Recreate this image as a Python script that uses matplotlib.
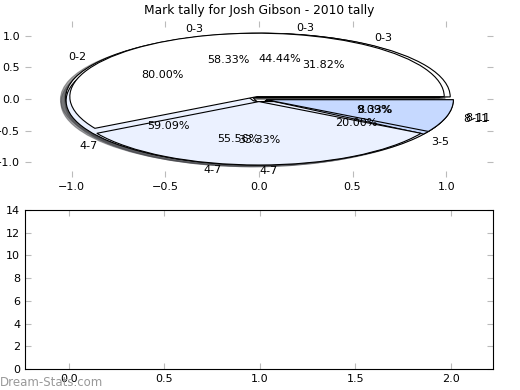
import matplotlib
matplotlib.use("Agg")
import matplotlib.pyplot as plt

# tallies (each pair is one pie, drawn in this order)
labels_a = ["0-2", "3-5"]
values_a = [4, 1]            # 80.00% / 20.00%
labels_b = ["0-3", "4-7"]
values_b = [4, 5]            # 44.44% / 55.56%
labels_c = ["0-3", "4-7", "8-11"]
values_c = [7, 13, 2]        # 31.82% / 59.09% / 9.09%
labels_d = ["0-3", "4-7", "8-11"]
values_d = [7, 4, 1]         # 58.33% / 33.33% / 8.33%

pies = [(labels_a, values_a), (labels_b, values_b),
        (labels_c, values_c), (labels_d, values_d)]

color_map = {"0-2": "white", "0-3": "white", "3-5": "#ebf1ff",
             "4-7": "#ebf1ff", "8-11": "#c6d9ff"}

fig = plt.figure(figsize=(5.2, 3.9), dpi=100)

# Top: overlaid pies
ax1 = fig.add_axes([0.048, 0.546, 0.9, 0.4])
for labels, values in pies:
    ax1.pie(values, labels=labels, colors=[color_map[l] for l in labels],
            explode=[0.04] * len(values), autopct="%1.2f%%", shadow=True,
            frame=True, wedgeprops={"edgecolor": "black", "linewidth": 0.8},
            textprops={"fontsize": 8})
ax1.set_aspect("auto")
ax1.set_xlim(-1.25, 1.25)
ax1.set_ylim(-1.23, 1.23)
ax1.set_xticks([-1.0, -0.5, 0.0, 0.5, 1.0])
ax1.set_yticks([-1.0, -0.5, 0.0, 0.5, 1.0])
for s in ax1.spines.values():
    s.set_visible(False)
ax1.tick_params(direction="in", color="#bbbbbb", labelsize=8, top=True, right=True, length=4)
ax1.set_title("Mark tally for Josh Gibson - 2010 tally", fontsize=8.8, pad=5)

# Bottom: empty axes
ax2 = fig.add_axes([0.048, 0.054, 0.9, 0.4077])
ax2.set_xlim(-0.23, 2.22)
ax2.set_ylim(0, 14)
ax2.set_xticks([0.0, 0.5, 1.0, 1.5, 2.0])
ax2.set_yticks(range(0, 15, 2))
ax2.tick_params(direction="in", color="#bbbbbb", labelsize=8, top=True, right=True, length=4)

fig.text(0.0, 0.01, "Dream-Stats.com", color="#999999", fontsize=8.5)

fig.savefig("out.png", dpi=100)
